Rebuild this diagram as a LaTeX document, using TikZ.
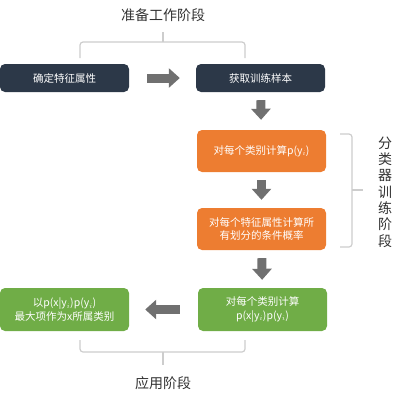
\documentclass[tikz,border=0pt]{standalone}
\usepackage{fontspec}
\setmainfont{Noto Sans CJK SC}
\usetikzlibrary{arrows.meta, positioning}
\definecolor{prepnavy}{RGB}{44, 56, 72}
\definecolor{trainorange}{RGB}{237, 125, 49}
\definecolor{applygreen}{RGB}{112, 173, 71}
\definecolor{arrowgray}{RGB}{112, 112, 112}
\definecolor{bracegray}{RGB}{205, 205, 205}
\definecolor{textdark}{RGB}{50, 50, 50}

\begin{document}
\begin{tikzpicture}[x=1pt, y=-1pt,
        stagebox/.style={
            rounded corners=5pt,
            minimum width=129pt,
            minimum height=28pt,
            inner sep=2pt,
            text=white,
            align=center,
            font=\fontsize{10.5}{13.5}\selectfont
        },
        flowarrow/.style={
            arrowgray,
            line width=9pt,
            -{Triangle[length=11pt, width=19pt]}
        },
        bracket/.style={
            bracegray,
            line width=1.2pt,
            rounded corners=3pt
        },
        stagetitle/.style={
            text=textdark,
            font=\fontsize{14}{16.5}\selectfont
        }
    ]
    \useasboundingbox (0,0) rectangle (412,400);

    % preparation stage
    \node[stagetitle] (prep) at (163,15) {准备工作阶段};
    \node[stagebox, fill=prepnavy] (features) at (64.5,78) {确定特征属性};
    \node[stagebox, fill=prepnavy] (samples) at (260.5,78) {获取训练样本};

    % classifier training stage
    \node[stagebox, fill=trainorange, minimum height=42pt] (prior) at (261.5,151) {对每个类别计算p(y$_i$)};
    \node[stagebox, fill=trainorange, minimum height=42pt] (condprob) at (261.5,229)
        {对每个特征属性计算所\\有划分的条件概率};
    \node[stagetitle, align=center, font=\fontsize{14}{16.3}\selectfont] (train) at (385,192)
        {分\\类\\器\\训\\练\\阶\\段};

    % application stage
    \node[stagebox, fill=applygreen, minimum height=43pt] (posterior) at (262.5,309.5)
        {对每个类别计算\\p(x|y$_i$)p(y$_i$)};
    \node[stagebox, fill=applygreen, minimum height=43pt] (decide) at (64.5,309.5)
        {以p(x|y$_i$)p(y$_i$)\\最大项作为x所属类别};
    \node[stagetitle] (apply) at (163,383) {应用阶段};

    % flow arrows
    \draw[flowarrow, shorten <=18pt, shorten >=16pt] (features) -- (samples);
    \draw[flowarrow, shorten <=8pt, shorten >=10pt] (samples) -- (prior);
    \draw[flowarrow, shorten <=8pt, shorten >=8pt] (prior) -- (condprob);
    \draw[flowarrow, shorten <=8pt, shorten >=8pt] (condprob) -- (posterior);
    \draw[flowarrow, shorten <=18pt, shorten >=16pt] (posterior) -- (decide);

    % brackets
    \coordinate (prepleft) at (80,58);
    \coordinate (prepright) at (245,58);
    \coordinate (prepmid) at (163,42);
    \draw[bracket] (prepleft) -- (80,42) -- (245,42) -- (prepright);
    \draw[bracket] (prepmid) -- (163,32);

    \coordinate (traintop) at (340,134);
    \coordinate (trainbottom) at (340,247);
    \draw[bracket] (traintop) -- (352,134) -- (352,247) -- (trainbottom);
    \draw[bracket] (352,190) -- (363,190);

    \coordinate (applyleft) at (80,340);
    \coordinate (applyright) at (245,340);
    \draw[bracket] (applyleft) -- (80,352) -- (245,352) -- (applyright);
    \draw[bracket] (163,352) -- (163,365);
\end{tikzpicture}
\end{document}
